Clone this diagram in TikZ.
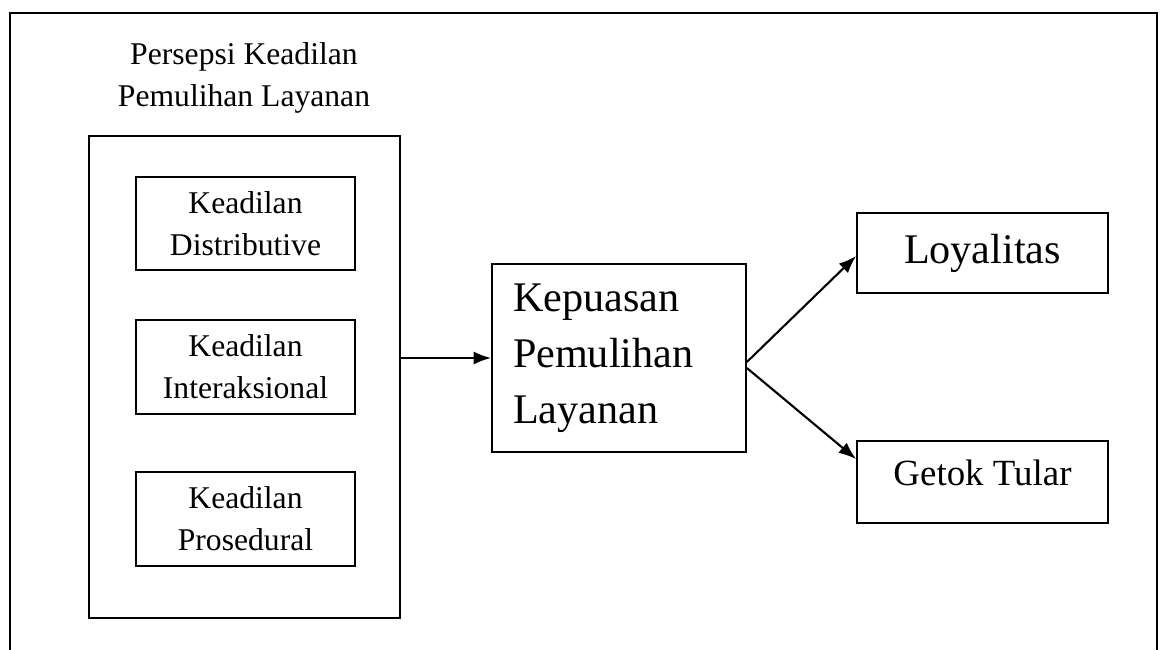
\documentclass[tikz,border=0pt]{standalone}
\usepackage{fontspec}
\setmainfont{Liberation Serif}
\usetikzlibrary{positioning,arrows.meta,calc}

\begin{document}
\begin{tikzpicture}[
    dimbox/.style={draw, line width=1pt, minimum width=4.38cm, minimum height=1.88cm,
        align=center, inner sep=0pt, font=\fontsize{18}{23.9}\selectfont},
    outbox/.style={draw, line width=1pt, minimum width=5.02cm, inner sep=0pt, align=center},
    link/.style={-{Latex[length=10pt,width=7.5pt]}, line width=1.2pt}]
    \useasboundingbox (0, 0) rectangle (23.26, -13);

    % Open frame round the model (no bottom edge)
    \draw[line width=1pt] (0.2, -13) -- (0.2, -0.26) -- (23.14, -0.26) -- (23.14, -13);

    % Group of justice dimensions
    \node[align=center, inner sep=0pt, font=\fontsize{18}{23.9}\selectfont] (title) at (4.88, -1.55)
        {Persepsi Keadilan\\Pemulihan Layanan};
    \node[draw, line width=1pt, minimum width=6.22cm, minimum height=9.64cm] (group) at (4.89, -7.54) {};

    \node[dimbox, minimum height=1.86cm] (distrib) at (4.91, -4.47) {Keadilan\\Distributive};
    \node[dimbox] (interak) at (4.91, -7.34) {Keadilan\\Interaksional};
    \node[dimbox] (prosed) at (4.91, -10.38) {Keadilan\\Prosedural};

    % Mediator
    \node[draw, line width=1pt, text width=4.24cm, inner xsep=0.42cm, inner ysep=0pt,
        minimum height=3.76cm, align=left, font=\fontsize{24}{31.9}\selectfont] (kepuasan) at (12.38, -7.16)
        {Kepuasan\\Pemulihan\\Layanan};

    % Outcomes
    \node[outbox, minimum height=1.6cm, font=\fontsize{24}{28}\selectfont] (loyal) at (19.65, -5.06) {Loyalitas};
    \node[outbox, minimum height=1.64cm, text depth=0.38cm, font=\fontsize{21}{25}\selectfont] (getok) at (19.65, -9.64) {Getok Tular};

    % Paths
    \draw[link] (group.east |- kepuasan.west) -- (kepuasan.west);
    \draw[link] ($(kepuasan.east)+(0,-0.08)$) -- ($(loyal.west)+(0,-0.06)$);
    \draw[link] ($(kepuasan.east)+(0,-0.2)$) -- ($(getok.north west)+(0,-0.38)$);
\end{tikzpicture}
\end{document}
